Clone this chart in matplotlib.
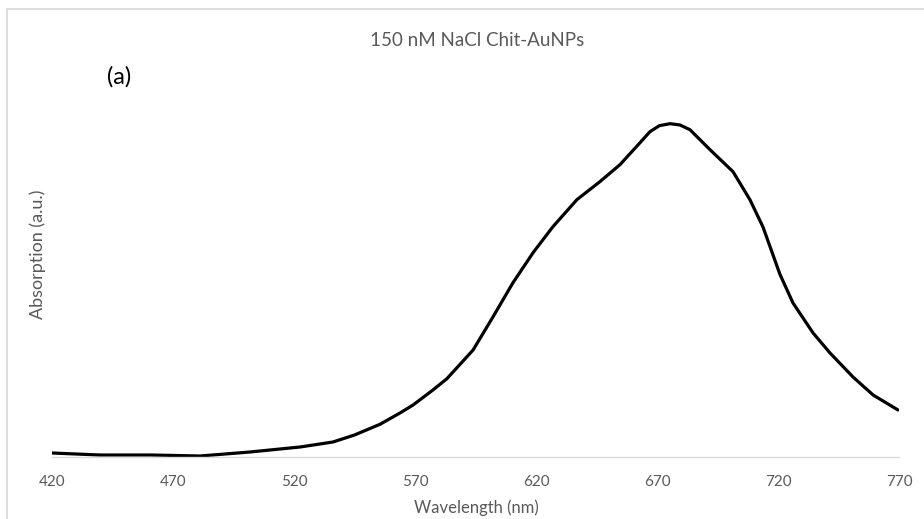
import matplotlib
matplotlib.use('Agg')
import matplotlib.pyplot as plt
from matplotlib.patches import Rectangle

# Spectrum (absorbance normalised to peak = 1)
wavelength = [420.0, 439.8, 460.5, 481.2, 501.8, 522.5, 536.1, 545.0, 555.5, 563.8,
              569.2, 577.4, 583.2, 594.0, 602.2, 610.5, 618.8, 627.0, 636.9, 646.4,
              654.7, 663.0, 667.1, 671.0, 675.4, 679.5, 683.6, 691.9, 701.4, 708.4,
              713.8, 720.8, 726.2, 734.5, 741.5, 751.0, 759.3, 769.6]
absorption = [0.012, 0.006, 0.006, 0.003, 0.015, 0.030, 0.045, 0.066, 0.098, 0.132,
              0.156, 0.201, 0.235, 0.321, 0.420, 0.523, 0.613, 0.691, 0.772, 0.826,
              0.877, 0.943, 0.976, 0.994, 1.000, 0.996, 0.982, 0.922, 0.856, 0.772,
              0.690, 0.548, 0.462, 0.372, 0.312, 0.240, 0.186, 0.141]
x_ticks = [420, 470, 520, 570, 620, 670, 720, 770]

title = "150 nM NaCl Chit-AuNPs"
x_label = "Wavelength (nm)"
y_label = "Absorption (a.u.)"
panel = "(a)"

plt.rcParams['font.family'] = ['Lato', 'DejaVu Sans']
grey = '#595959'

fig = plt.figure(figsize=(9.24, 5.19), dpi=100)
ax = fig.add_axes([52 / 924, 1 - 457 / 519, 847 / 924, 400 / 519])

ax.plot(wavelength, absorption, color='black', linewidth=2.3,
        solid_capstyle='round', solid_joinstyle='round')
ax.set_xlim(420, 770)
ax.set_ylim(0, 1.2)
ax.set_xticks(x_ticks)
ax.set_yticks([])
ax.tick_params(axis='x', length=0, pad=13, labelsize=11, labelcolor=grey)

for side in ['top', 'right', 'left']:
    ax.spines[side].set_visible(False)
ax.spines['bottom'].set_color('#d9d9d9')
ax.spines['bottom'].set_linewidth(1)

fig.text(477 / 924, 1 - 40 / 519, title, ha='center', va='center', fontsize=13.5, color=grey)
fig.text(476 / 924, 1 - 508 / 519, x_label, ha='center', va='center', fontsize=12, color=grey)
fig.text(38 / 924, 1 - 254 / 519, y_label, ha='center', va='center', rotation=90,
         fontsize=13, color=grey)
fig.text(107 / 924, 1 - 77 / 519, panel, ha='left', va='center', fontsize=17, color='black')

# light chart-area border (only top and left edges fall inside the image)
fig.patches.append(Rectangle((7 / 924, -0.1), 1.2, 1 - 9 / 519 + 0.1, transform=fig.transFigure,
                             fill=False, edgecolor='#d9d9d9', linewidth=1.2))

fig.savefig('out.png', dpi=100)
